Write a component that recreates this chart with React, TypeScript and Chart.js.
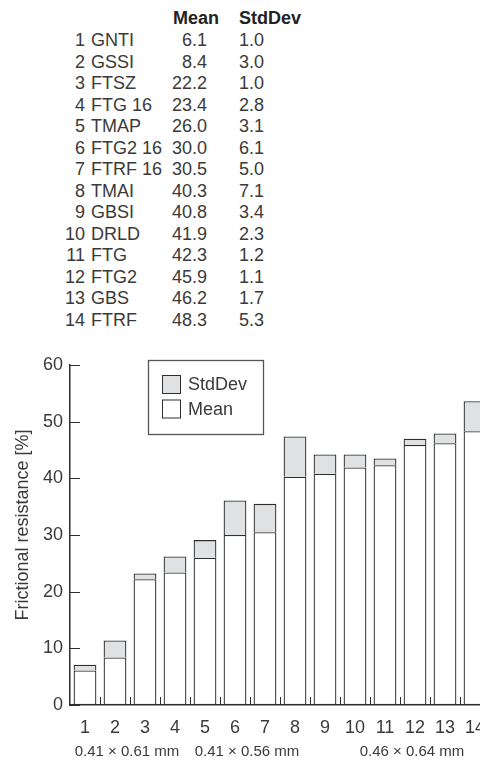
import React, { useEffect, useRef } from "react";
import { Chart, registerables } from "chart.js";

Chart.register(...registerables);

const categories = ["1", "2", "3", "4", "5", "6", "7", "8", "9", "10", "11", "12", "13", "14"];
const names = ["GNTI", "GSSI", "FTSZ", "FTG 16", "TMAP", "FTG2 16", "FTRF 16", "TMAI", "GBSI", "DRLD", "FTG", "FTG2", "GBS", "FTRF"];
const meanValues = [6.1, 8.4, 22.2, 23.4, 26.0, 30.0, 30.5, 40.3, 40.8, 41.9, 42.3, 45.9, 46.2, 48.3];
const stdDevValues = [1.0, 3.0, 1.0, 2.8, 3.1, 6.1, 5.0, 7.1, 3.4, 2.3, 1.2, 1.1, 1.7, 5.3];
const yTicks = [0, 10, 20, 30, 40, 50, 60];
const groupLabels = ["0.41 × 0.61 mm", "0.41 × 0.56 mm", "0.46 × 0.64 mm"];
const groupFirst = [0, 4, 9];
const groupLast = [3, 7, 13];
const yTitle = "Frictional resistance [%]";
const seriesNames = ["StdDev", "Mean"];

const FONT = "'Liberation Sans', Arial, Helvetica, sans-serif";
const INK = "#3a3a3a";
const LINE = "#2e2e2e";
const GRAY = "#e0e1e3";

const decorPlugin = {
  id: "decor",
  afterDraw(chart: any) {
    const { ctx, chartArea, scales } = chart;
    const x = scales.x;
    const y = scales.y;
    ctx.save();
    ctx.strokeStyle = LINE;
    ctx.lineWidth = 1;
    yTicks.forEach((v) => {
      const py = Math.round(y.getPixelForValue(v)) + 0.5;
      ctx.beginPath();
      ctx.moveTo(chartArea.left, py);
      ctx.lineTo(chartArea.left + 10, py);
      ctx.stroke();
    });
    const cw = x.getPixelForValue(1) - x.getPixelForValue(0);
    for (let i = 0; i < categories.length; i++) {
      const px = Math.round(x.getPixelForValue(i) + cw / 2) + 0.5;
      ctx.beginPath();
      ctx.moveTo(px, chartArea.bottom);
      ctx.lineTo(px, chartArea.bottom - 8);
      ctx.stroke();
    }
    ctx.fillStyle = INK;
    ctx.font = `15px ${FONT}`;
    ctx.textAlign = "center";
    ctx.textBaseline = "middle";
    groupLabels.forEach((lab, k) => {
      const cx = (x.getPixelForValue(groupFirst[k]) + x.getPixelForValue(groupLast[k])) / 2;
      ctx.fillText(lab, cx - 3, chartArea.bottom + 47);
    });
    ctx.font = `18px ${FONT}`;
    ctx.save();
    ctx.translate(23, (chartArea.top + chartArea.bottom) / 2 - 10);
    ctx.rotate(-Math.PI / 2);
    ctx.fillText(yTitle, 0, 0);
    ctx.restore();
    const bx = 148.5, by = chartArea.top - 4.5, bw = 115, bh = 74;
    ctx.strokeStyle = "#555";
    ctx.lineWidth = 1.3;
    ctx.fillStyle = "#fff";
    ctx.fillRect(bx, by, bw, bh);
    ctx.strokeRect(bx, by, bw, bh);
    const fills = [GRAY, "#ffffff"];
    const rowsY = [by + 24, by + 48.5];
    ctx.lineWidth = 1;
    ctx.strokeStyle = LINE;
    seriesNames.forEach((nm, k) => {
      ctx.fillStyle = fills[k];
      ctx.fillRect(162.5, rowsY[k] - 9, 18, 18);
      ctx.strokeRect(162.5, rowsY[k] - 9, 18, 18);
      ctx.fillStyle = INK;
      ctx.font = `18px ${FONT}`;
      ctx.textAlign = "left";
      ctx.textBaseline = "middle";
      ctx.fillText(nm, 188, rowsY[k] + 1);
    });
    ctx.restore();
  },
};

function ChartCanvas() {
  const ref = useRef<HTMLCanvasElement | null>(null);
  useEffect(() => {
    if (!ref.current) return;
    const chart = new Chart(ref.current, {
      type: "bar",
      data: {
        labels: categories,
        datasets: [
          {
            label: "Mean",
            data: meanValues,
            backgroundColor: "#ffffff",
            borderColor: LINE,
            borderWidth: 1.3,
            borderSkipped: false,
            barPercentage: 0.76,
            categoryPercentage: 1,
          },
          {
            label: "StdDev",
            data: stdDevValues,
            backgroundColor: GRAY,
            borderColor: LINE,
            borderWidth: 1.3,
            borderSkipped: "start",
            barPercentage: 0.76,
            categoryPercentage: 1,
          },
        ],
      },
      options: {
        animation: false,
        responsive: false,
        maintainAspectRatio: false,
        layout: { padding: { top: 25, right: 10, left: 0, bottom: 0 } },
        plugins: { legend: { display: false }, tooltip: { enabled: false } },
        scales: {
          x: {
            stacked: true,
            grid: { display: false, drawTicks: false },
            border: { display: true, color: LINE, width: 1.5 },
            ticks: { color: INK, font: { family: FONT, size: 18 }, padding: 12, maxRotation: 0, autoSkip: false },
            afterFit: (s: any) => {
              s.height = 55;
            },
          },
          y: {
            stacked: true,
            min: 0,
            max: 60,
            grid: { display: false, drawTicks: false },
            border: { display: true, color: LINE, width: 1.5 },
            ticks: { stepSize: 10, color: INK, font: { family: FONT, size: 18 }, padding: 7 },
            afterFit: (s: any) => {
              s.width = 70;
            },
          },
        },
      },
      plugins: [decorPlugin],
    } as any);
    return () => chart.destroy();
  }, []);
  return (
    <canvas
      ref={ref}
      width={500}
      height={420}
      style={{ position: "absolute", left: 0, top: 340, width: 500, height: 420 }}
    />
  );
}

export default function App() {
  const rowH = 21.54;
  return (
    <div
      style={{
        position: "absolute",
        left: 0,
        top: 0,
        width: 480,
        height: 760,
        overflow: "hidden",
        background: "#fff",
        fontFamily: FONT,
        color: INK,
        fontSize: 18,
      }}
    >
      <div style={{ position: "absolute", left: 173, top: 8, lineHeight: "20px", fontWeight: "bold", color: "#222" }}>Mean</div>
      <div style={{ position: "absolute", left: 239, top: 8, lineHeight: "20px", fontWeight: "bold", color: "#222" }}>StdDev</div>
      {categories.map((c, i) => {
        const top = 40 + i * rowH - 10;
        return (
          <React.Fragment key={c}>
            <div style={{ position: "absolute", left: 45, width: 40, top, lineHeight: "20px", textAlign: "right" }}>{c}</div>
            <div style={{ position: "absolute", left: 91, top, lineHeight: "20px", whiteSpace: "nowrap" }}>{names[i]}</div>
            <div style={{ position: "absolute", left: 157, width: 50, top, lineHeight: "20px", textAlign: "right" }}>
              {meanValues[i].toFixed(1)}
            </div>
            <div style={{ position: "absolute", left: 239, top, lineHeight: "20px" }}>{stdDevValues[i].toFixed(1)}</div>
          </React.Fragment>
        );
      })}
      <ChartCanvas />
    </div>
  );
}
